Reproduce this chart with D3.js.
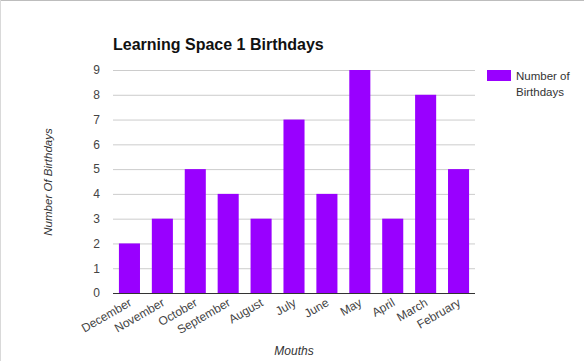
<!DOCTYPE html>
<html><head><meta charset="utf-8">
<script src="https://cdn.jsdelivr.net/npm/d3@7"></script>
<style>body{margin:0;background:#fff;} text{font-family:"Liberation Sans",Arial,sans-serif;}</style>
</head><body>
<svg id="c" width="584" height="361"></svg>
<script>
const categories = ["December","November","October","September","August","July","June","May","April","March","February"];
const values = [2,3,5,4,3,7,4,9,3,8,5];
const yTicks = [0,1,2,3,4,5,6,7,8,9];
const seriesName = ["Number of","Birthdays"];

const svg = d3.select("#c");
const W = 584, H = 361;
const m = {left:113, right:109, top:70, bottom:68};
const pw = W - m.left - m.right, ph = H - m.top - m.bottom;

svg.append("line").attr("x1",0).attr("x2",W).attr("y1",0.5).attr("y2",0.5).attr("stroke","#bdbdbd");
svg.append("line").attr("x1",0.5).attr("x2",0.5).attr("y1",0).attr("y2",H).attr("stroke","#d9d9d9");

const x = d3.scaleBand().domain(categories).range([m.left, m.left+pw]).paddingInner(0.36).paddingOuter(0.18);
const y = d3.scaleLinear().domain([0,9]).range([m.top+ph, m.top]);

const g = svg.append("g");
g.selectAll("line.grid").data(yTicks).enter().append("line")
  .attr("x1",m.left).attr("x2",m.left+pw)
  .attr("y1",d=>y(d)+0.5).attr("y2",d=>y(d)+0.5)
  .attr("stroke","#cccccc");

const yAxis = d3.axisLeft(y).tickValues(yTicks).tickSize(0).tickPadding(13);
const ya = svg.append("g").attr("transform",`translate(${m.left},0)`).call(yAxis);
ya.select(".domain").remove();
ya.selectAll("text").attr("font-size",12).attr("fill","#444").attr("font-family","Liberation Sans, Arial, sans-serif");

svg.selectAll("rect.bar").data(values).enter().append("rect")
  .attr("x",(d,i)=>x(categories[i])).attr("width",x.bandwidth())
  .attr("y",d=>y(d)).attr("height",d=>y(0)-y(d))
  .attr("fill","#9900ff");

svg.append("line").attr("x1",m.left).attr("x2",m.left+pw).attr("y1",y(0)+0.5).attr("y2",y(0)+0.5).attr("stroke","#333").attr("stroke-width",1.2);

const xAxis = d3.axisBottom(x).tickSize(0).tickPadding(0);
const xa = svg.append("g").attr("transform",`translate(0,${y(0)})`).call(xAxis);
xa.select(".domain").remove();
xa.selectAll("text").attr("font-size",12).attr("fill","#444")
  .attr("font-family","Liberation Sans, Arial, sans-serif")
  .attr("text-anchor","end").attr("dy",null)
  .attr("transform","translate(3,12) rotate(-30)");

svg.append("text").attr("x",m.left).attr("y",50).text("Learning Space 1 Birthdays")
  .attr("font-size",16).attr("font-weight","bold").attr("fill","#111");

svg.append("text").attr("x",294).attr("y",355).attr("text-anchor","middle").text("Mouths")
  .attr("font-size",12).attr("font-style","italic").attr("fill","#333");

svg.append("text").attr("transform","translate(52,182) rotate(-90)").attr("text-anchor","middle")
  .text("Number Of Birthdays").attr("font-size",11.5).attr("font-style","italic").attr("fill","#333");

const lg = svg.append("g");
lg.append("rect").attr("x",487).attr("y",70).attr("width",24).attr("height",11).attr("fill","#9900ff");
lg.selectAll("text").data(seriesName).enter().append("text")
  .attr("x",516).attr("y",(d,i)=>80+i*16).text(d=>d)
  .attr("font-size",11.5).attr("fill","#333");
</script>
</body></html>
